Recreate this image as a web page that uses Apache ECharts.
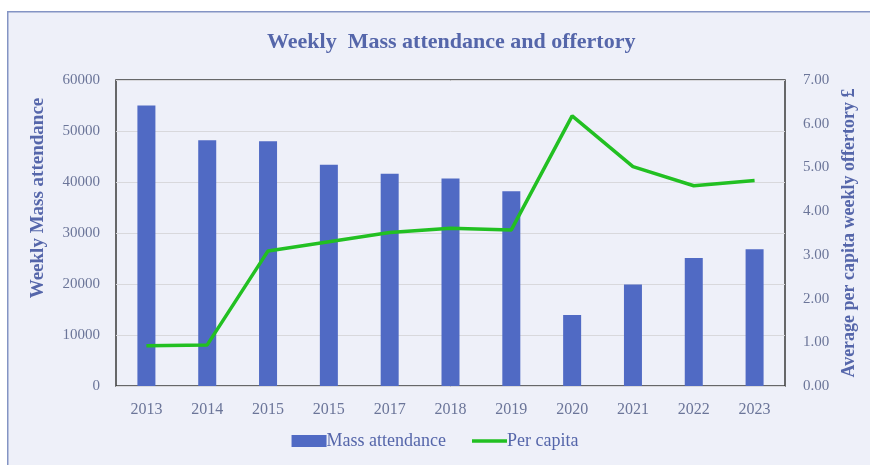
<!DOCTYPE html>
<html>
<head>
<meta charset="utf-8">
<script src="https://cdn.jsdelivr.net/npm/echarts@6/dist/echarts.min.js"></script>
<style>
html,body{margin:0;padding:0;background:#fff;}
#c{width:870px;height:465px;}
</style>
</head>
<body>
<div id="c"></div>
<script>
const categories = ['2013','2014','2015','2015','2017','2018','2019','2020','2021','2022','2023'];
const attendance = [55000, 48200, 48000, 43400, 41600, 40700, 38200, 13900, 19900, 25100, 26800];
const perCapita = [0.92, 0.94, 3.09, 3.30, 3.51, 3.61, 3.57, 6.18, 5.02, 4.58, 4.70];
const leftTicks = { min: 0, max: 60000, interval: 10000 };
const rightTicks = { min: 0, max: 7, interval: 1 };

const FONT = 'Liberation Serif';
const TITLE_COLOR = '#5566AA';
const LABEL_COLOR = '#6B7599';

const chart = echarts.init(document.getElementById('c'), null, {renderer: 'canvas'});
chart.setOption({
  backgroundColor: '#fff',
  animation: false,
  graphic: [{
    type: 'rect', left: 7, top: 11, z: -10,
    shape: {width: 880, height: 470},
    style: {fill: '#EEF0F9', stroke: '#8494C4', lineWidth: 1.5}
  }, {
    type: 'text', x: 38, y: 198, rotation: Math.PI / 2,
    style: {text: 'Weekly Mass attendance', fontFamily: FONT, fontWeight: 'bold', fontSize: 19,
      fill: TITLE_COLOR, align: 'center', verticalAlign: 'middle'}
  }],
  title: {
    text: 'Weekly  Mass attendance and offertory',
    left: 262, top: 26,
    textStyle: {fontFamily: FONT, fontWeight: 'bold', fontSize: 22, color: TITLE_COLOR}
  },
  grid: {
    left: 116, right: 85, top: 80, bottom: 79,
    show: true, borderColor: '#3A3A3A', borderWidth: 1.5, backgroundColor: 'transparent'
  },
  legend: {
    bottom: 10, left: 'center', itemGap: 26,
    itemWidth: 35, itemHeight: 12,
    textStyle: {fontFamily: FONT, fontSize: 18, color: TITLE_COLOR, padding: [0,0,0,-5]},
    data: [
      {name: 'Mass attendance', icon: 'rect'},
      {name: 'Per capita', icon: 'path://M0,0 L35,0 L35,3.5 L0,3.5 Z', itemStyle: {color: '#22C022'}}
    ]
  },
  xAxis: {
    type: 'category', data: categories,
    axisLine: {show: false}, axisTick: {show: false},
    axisLabel: {fontFamily: FONT, fontSize: 16, color: LABEL_COLOR, margin: 16}
  },
  yAxis: [{
    type: 'value', min: leftTicks.min, max: leftTicks.max, interval: leftTicks.interval,
    axisLine: {show: false}, axisTick: {show: false},
    axisLabel: {fontFamily: FONT, fontSize: 15, color: LABEL_COLOR, margin: 16,
      formatter: v => String(v)},
    splitLine: {lineStyle: {color: '#D8D8DC', width: 1}}
  }, {
    type: 'value', min: rightTicks.min, max: rightTicks.max, interval: rightTicks.interval,
    name: 'Average per capita weekly offertory £', nameLocation: 'middle', nameGap: 53,
    nameRotate: 90,
    nameTextStyle: {fontFamily: FONT, fontWeight: 'bold', fontSize: 18, color: TITLE_COLOR},
    axisLine: {show: false}, axisTick: {show: false},
    axisLabel: {fontFamily: FONT, fontSize: 15, color: LABEL_COLOR, margin: 18,
      formatter: v => v.toFixed(2)},
    splitLine: {show: false}
  }],
  series: [{
    name: 'Mass attendance', type: 'bar', data: attendance, yAxisIndex: 0,
    barWidth: 18, itemStyle: {color: '#506AC4'}
  }, {
    name: 'Per capita', type: 'line', data: perCapita, yAxisIndex: 1,
    symbol: 'none', showSymbol: false,
    lineStyle: {color: '#22C022', width: 3.5}, itemStyle: {color: '#22C022'}
  }]
});
</script>
</body>
</html>
